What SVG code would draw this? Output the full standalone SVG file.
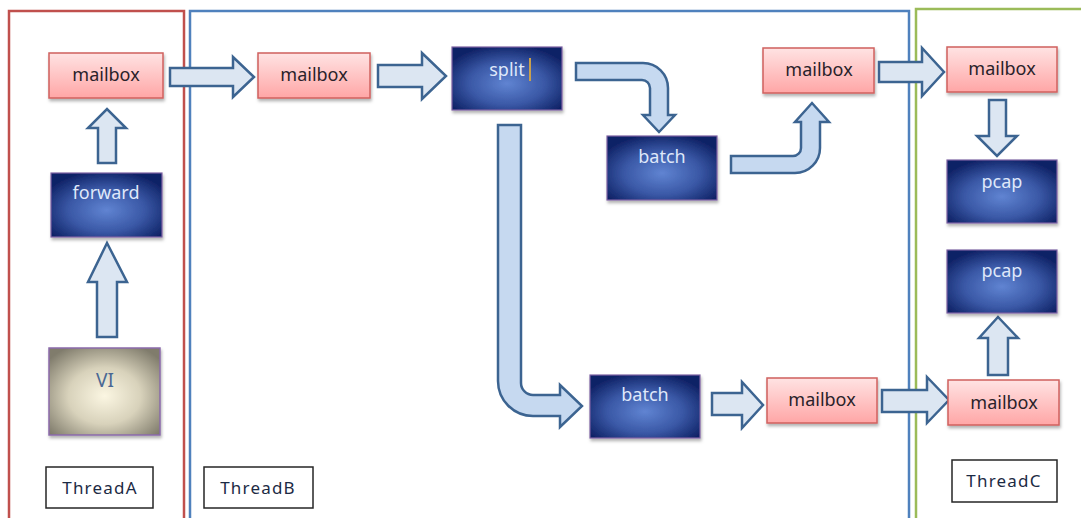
<svg xmlns="http://www.w3.org/2000/svg" width="1081" height="518" viewBox="0 0 1081 518">
  <defs>
    <radialGradient id="navy" cx="50%" cy="58%" r="62%">
      <stop offset="0" stop-color="#6084d2"/>
      <stop offset="0.55" stop-color="#3a58a6"/>
      <stop offset="1" stop-color="#0f2266"/>
    </radialGradient>
    <radialGradient id="cream" cx="50%" cy="55%" r="65%">
      <stop offset="0" stop-color="#fbf6e2"/>
      <stop offset="0.5" stop-color="#d8d2bb"/>
      <stop offset="1" stop-color="#807c6c"/>
    </radialGradient>
    <linearGradient id="pink" x1="0" y1="0" x2="0" y2="1">
      <stop offset="0" stop-color="#ffe3e3"/>
      <stop offset="1" stop-color="#ffa6a6"/>
    </linearGradient>
    <filter id="shadow" x="-10%" y="-10%" width="125%" height="135%">
      <feDropShadow dx="1" dy="2.5" stdDeviation="1.6" flood-color="#000" flood-opacity="0.3"/>
    </filter>
  </defs>
  <style>
    .frame { fill: none; stroke-width: 2.5; }
    .mail rect { fill: url(#pink); stroke: #d0605e; stroke-width: 1.5; filter: url(#shadow); }
    .mail text { font-family: "Noto Sans", "DejaVu Sans", sans-serif; font-size: 18px; fill: #2a1f2a; text-anchor: middle; }
    .proc rect { fill: url(#navy); stroke: #7d62a3; stroke-width: 1.2; filter: url(#shadow); }
    .proc text { font-family: "Noto Sans", "DejaVu Sans", sans-serif; font-size: 18px; fill: #dfe8fa; text-anchor: middle; }
    .label rect { fill: #fff; stroke: #262626; stroke-width: 1.5; }
    .label text { font-family: "Noto Sans", "DejaVu Sans", sans-serif; font-size: 17px; letter-spacing: 1.2px; fill: #1c2a44; text-anchor: middle; }
    .arrow { fill: #dce6f2; stroke: #3c6491; stroke-width: 2.5; stroke-linejoin: miter; }
    .bent { fill: #c6d9f0; }
  </style>

  <rect width="1081" height="518" fill="#fff"/>

  <!-- thread frames -->
  <g id="frames">
    <rect class="frame" x="9" y="11" width="175" height="530" stroke="#c0504d"/>
    <rect class="frame" x="190" y="11" width="719" height="530" stroke="#4f81bd"/>
    <rect class="frame" x="916" y="9" width="200" height="530" stroke="#9bbb59"/>
  </g>

  <!-- connectors -->
  <g id="connectors">
    <path class="arrow" d="M98,163 V128 H88 L107,109 L126,128 H116 V163 Z"/>
    <path class="arrow" d="M97,337 V282 H88 L107,243 L127,282 H117 V337 Z"/>
    <path class="arrow" d="M170,68 H233 V57 L254,77 L233,97 V86 H170 Z"/>
    <path class="arrow" d="M378,65 H422 V53 L446,76 L422,99 V87 H378 Z"/>
    <path class="arrow bent" d="M576,63 H643 A25,25 0 0 1 668,88 V115 H675 L659,132 L643,115 H650 V88 A8,8 0 0 0 642,80 H576 Z"/>
    <path class="arrow bent" d="M498,125 H521 V383 A12,12 0 0 0 533,395 H560 V385 L582,406 L560,427 V416 H533 A35,35 0 0 1 498,381 Z"/>
    <path class="arrow bent" d="M731,156 H793 A8,8 0 0 0 801,148 V122 H795 L812,103 L829,122 H820 V148 A25,25 0 0 1 795,173 H731 Z"/>
    <path class="arrow" d="M879,62 H922 V48 L944,72 L922,96 V82 H879 Z"/>
    <path class="arrow" d="M989,100 H1006 V136 H1017 L997,156 L977,136 H989 Z"/>
    <path class="arrow" d="M712,393 H742 V382 L763,405 L742,428 V415 H712 Z"/>
    <path class="arrow" d="M882,390 H927 V377 L949,400 L927,423 V412 H882 Z"/>
    <path class="arrow" d="M988,375 V338 H979 L998,317 L1018,338 H1008 V375 Z"/>
  </g>

  <!-- ThreadA -->
  <g id="mailboxA" class="mail">
    <rect x="49" y="53" width="114" height="45"/>
    <text x="106" y="81">mailbox</text>
  </g>
  <g id="forward" class="proc">
    <rect x="51" y="173" width="111" height="64"/>
    <text x="106" y="199">forward</text>
  </g>
  <g id="vi">
    <rect x="49" y="348" width="111" height="87" fill="url(#cream)" stroke="#8a6aab" stroke-width="1.5" filter="url(#shadow)"/>
    <text x="105" y="387" font-family="Noto Sans, DejaVu Sans, sans-serif" font-size="19" fill="#4a6894" text-anchor="middle">VI</text>
  </g>
  <g id="labelA" class="label">
    <rect x="46" y="467" width="107" height="41"/>
    <text x="100" y="494">ThreadA</text>
  </g>

  <!-- ThreadB -->
  <g id="mailboxB1" class="mail">
    <rect x="258" y="53" width="112" height="45"/>
    <text x="314" y="81">mailbox</text>
  </g>
  <g id="split" class="proc">
    <rect x="452" y="47" width="110" height="63"/>
    <text x="507" y="76">split</text>
    <line x1="530" y1="58" x2="530" y2="81" stroke="#c9a04c" stroke-width="2"/>
  </g>
  <g id="batch1" class="proc">
    <rect x="607" y="136" width="110" height="64"/>
    <text x="662" y="163">batch</text>
  </g>
  <g id="mailboxB2" class="mail">
    <rect x="763" y="48" width="111" height="45"/>
    <text x="819" y="76">mailbox</text>
  </g>
  <g id="batch2" class="proc">
    <rect x="590" y="375" width="110" height="63"/>
    <text x="645" y="401">batch</text>
  </g>
  <g id="mailboxB3" class="mail">
    <rect x="767" y="378" width="110" height="45"/>
    <text x="822" y="406">mailbox</text>
  </g>
  <g id="labelB" class="label">
    <rect x="204" y="467" width="109" height="41"/>
    <text x="258" y="494">ThreadB</text>
  </g>

  <!-- ThreadC -->
  <g id="mailboxC1" class="mail">
    <rect x="947" y="47" width="110" height="45"/>
    <text x="1002" y="75">mailbox</text>
  </g>
  <g id="pcap1" class="proc">
    <rect x="947" y="160" width="110" height="63"/>
    <text x="1002" y="188">pcap</text>
  </g>
  <g id="pcap2" class="proc">
    <rect x="947" y="250" width="110" height="63"/>
    <text x="1002" y="277">pcap</text>
  </g>
  <g id="mailboxC2" class="mail">
    <rect x="948" y="380" width="111" height="45"/>
    <text x="1004" y="409">mailbox</text>
  </g>
  <g id="labelC" class="label">
    <rect x="952" y="460" width="105" height="42"/>
    <text x="1004" y="487">ThreadC</text>
  </g>
</svg>
